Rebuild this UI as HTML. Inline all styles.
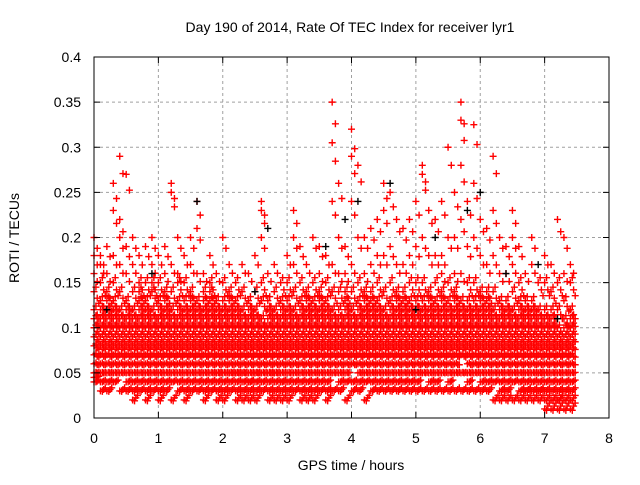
<!DOCTYPE html>
<html><head><meta charset="utf-8"><style>
body{margin:0;background:#fff;}
svg text{font-family:"Liberation Sans",sans-serif;font-size:14px;fill:#000;}
</style></head><body>
<svg id="chart" width="640" height="480" xmlns="http://www.w3.org/2000/svg">
<rect width="640" height="480" fill="#fff"/>
<text x="350" y="32" text-anchor="middle">Day 190 of 2014, Rate Of TEC Index for receiver lyr1</text>
<g id="grid"></g>
<g id="marks"></g>
<g id="marksk"></g>
<rect x="94" y="57" width="515" height="361" fill="none" stroke="#000" stroke-width="1"/>
<g id="ticks"></g>
<text x="351" y="470" text-anchor="middle">GPS time / hours</text>
<text x="19" y="238" text-anchor="middle" transform="rotate(-90 19 238)">ROTI / TECUs</text>
</svg>
<script>
const xTicks=[0,1,2,3,4,5,6,7,8];
const yTicks=[0,0.05,0.1,0.15,0.2,0.25,0.3,0.35,0.4];
const yTickLabels=["0","0.05","0.1","0.15","0.2","0.25","0.3","0.35","0.4"];
const times=[0,0.1,0.2,0.3,0.4,0.5,0.6,0.7,0.8,0.9,1.0,1.1,1.2,1.3,1.4,1.5,1.6,1.7,1.8,1.9,2.0,2.1,2.2,2.3,2.4,2.5,2.6,2.7,2.8,2.9,3.0,3.1,3.2,3.3,3.4,3.5,3.6,3.7,3.8,3.9,4.0,4.1,4.2,4.3,4.4,4.5,4.6,4.7,4.8,4.9,5.0,5.1,5.2,5.3,5.4,5.5,5.6,5.7,5.8,5.9,6.0,6.1,6.2,6.3,6.4,6.5,6.6,6.7,6.8,6.9,7.0,7.1,7.2,7.3,7.4];
const roti=[
[0.04,0.05,0.06,0.08,0.1,0.12,0.14,0.16,0.18,0.2,0.07,0.09,0.045,0.11],
[0.03,0.04,0.06,0.07,0.09,0.11,0.13,0.15,0.17,0.18,0.05,0.08,0.12,0.1],
[0.03,0.05,0.06,0.08,0.1,0.12,0.14,0.16,0.19,0.07,0.09,0.04,0.11,0.13],
[0.04,0.05,0.07,0.09,0.11,0.13,0.15,0.18,0.23,0.26,0.06,0.08,0.1,0.12],
[0.03,0.05,0.06,0.08,0.1,0.12,0.14,0.17,0.2,0.29,0.22,0.07,0.09,0.11],
[0.03,0.04,0.05,0.07,0.09,0.11,0.13,0.16,0.19,0.27,0.06,0.08,0.1,0.12],
[0.02,0.04,0.05,0.06,0.08,0.1,0.12,0.14,0.17,0.2,0.07,0.09,0.03,0.11],
[0.03,0.04,0.06,0.07,0.09,0.11,0.13,0.15,0.18,0.05,0.08,0.1,0.12,0.14],
[0.02,0.04,0.05,0.07,0.08,0.1,0.12,0.15,0.19,0.06,0.09,0.03,0.11,0.13],
[0.03,0.04,0.06,0.07,0.09,0.11,0.14,0.17,0.2,0.05,0.08,0.1,0.12,0.15],
[0.02,0.04,0.05,0.07,0.08,0.1,0.12,0.15,0.18,0.06,0.09,0.03,0.11,0.13],
[0.03,0.05,0.06,0.08,0.09,0.11,0.13,0.16,0.19,0.04,0.07,0.1,0.12,0.14],
[0.02,0.04,0.05,0.07,0.09,0.1,0.12,0.14,0.17,0.25,0.26,0.06,0.08,0.11],
[0.03,0.04,0.06,0.07,0.08,0.1,0.12,0.15,0.2,0.05,0.09,0.11,0.13,0.16],
[0.02,0.04,0.05,0.07,0.09,0.11,0.13,0.15,0.18,0.06,0.08,0.1,0.12,0.03],
[0.03,0.05,0.06,0.08,0.1,0.12,0.14,0.17,0.2,0.04,0.07,0.09,0.11,0.13],
[0.03,0.04,0.06,0.07,0.09,0.11,0.13,0.16,0.21,0.24,0.05,0.08,0.1,0.12],
[0.02,0.04,0.05,0.07,0.08,0.1,0.12,0.14,0.16,0.06,0.09,0.03,0.11,0.13],
[0.03,0.04,0.05,0.06,0.08,0.1,0.12,0.15,0.18,0.07,0.09,0.11,0.13,0.14],
[0.02,0.03,0.05,0.06,0.08,0.09,0.11,0.13,0.16,0.04,0.07,0.1,0.12,0.05],
[0.02,0.04,0.05,0.06,0.08,0.1,0.12,0.15,0.2,0.03,0.07,0.09,0.11,0.13],
[0.03,0.04,0.05,0.07,0.08,0.1,0.12,0.14,0.17,0.06,0.09,0.11,0.13,0.05],
[0.02,0.03,0.05,0.06,0.07,0.09,0.11,0.13,0.15,0.04,0.08,0.1,0.12,0.05],
[0.02,0.04,0.05,0.06,0.08,0.09,0.11,0.14,0.17,0.03,0.07,0.1,0.12,0.05],
[0.02,0.03,0.04,0.06,0.07,0.09,0.1,0.12,0.16,0.05,0.08,0.11,0.13,0.04],
[0.02,0.04,0.05,0.06,0.08,0.1,0.12,0.14,0.18,0.03,0.07,0.09,0.11,0.05],
[0.03,0.04,0.05,0.07,0.08,0.1,0.13,0.15,0.2,0.24,0.23,0.06,0.09,0.11],
[0.02,0.03,0.05,0.06,0.08,0.09,0.11,0.13,0.16,0.04,0.07,0.1,0.12,0.05],
[0.02,0.04,0.05,0.06,0.07,0.09,0.11,0.14,0.17,0.03,0.08,0.1,0.12,0.05],
[0.02,0.03,0.04,0.06,0.07,0.08,0.1,0.12,0.15,0.05,0.09,0.11,0.13,0.04],
[0.02,0.04,0.05,0.07,0.09,0.11,0.13,0.15,0.18,0.06,0.08,0.1,0.12,0.03],
[0.03,0.04,0.06,0.08,0.1,0.12,0.14,0.17,0.23,0.2,0.05,0.07,0.09,0.11],
[0.02,0.04,0.05,0.07,0.09,0.11,0.13,0.15,0.19,0.06,0.08,0.1,0.12,0.03],
[0.02,0.03,0.05,0.06,0.08,0.1,0.12,0.14,0.17,0.04,0.07,0.09,0.11,0.13],
[0.02,0.04,0.05,0.07,0.08,0.1,0.12,0.15,0.2,0.03,0.06,0.09,0.11,0.13],
[0.03,0.04,0.06,0.07,0.09,0.11,0.13,0.16,0.19,0.05,0.08,0.1,0.12,0.14],
[0.02,0.04,0.05,0.07,0.09,0.11,0.13,0.15,0.18,0.06,0.08,0.1,0.12,0.03],
[0.03,0.05,0.06,0.08,0.1,0.12,0.14,0.17,0.24,0.35,0.305,0.07,0.09,0.11],
[0.03,0.04,0.06,0.08,0.1,0.12,0.14,0.16,0.2,0.26,0.05,0.07,0.09,0.11],
[0.02,0.04,0.05,0.07,0.09,0.11,0.13,0.16,0.19,0.06,0.08,0.1,0.12,0.14],
[0.03,0.04,0.06,0.08,0.1,0.12,0.14,0.17,0.24,0.29,0.32,0.07,0.09,0.11],
[0.03,0.05,0.06,0.08,0.1,0.12,0.15,0.2,0.28,0.07,0.09,0.11,0.13,0.04],
[0.02,0.04,0.05,0.07,0.09,0.11,0.13,0.16,0.2,0.06,0.08,0.1,0.12,0.14],
[0.03,0.04,0.06,0.08,0.1,0.12,0.14,0.17,0.21,0.05,0.07,0.09,0.11,0.13],
[0.03,0.05,0.06,0.08,0.1,0.12,0.15,0.18,0.22,0.07,0.09,0.11,0.13,0.04],
[0.03,0.04,0.06,0.08,0.1,0.12,0.14,0.18,0.23,0.26,0.05,0.07,0.09,0.11],
[0.03,0.05,0.07,0.09,0.11,0.13,0.15,0.19,0.25,0.06,0.08,0.1,0.12,0.04],
[0.03,0.04,0.06,0.08,0.1,0.12,0.14,0.17,0.22,0.05,0.07,0.09,0.11,0.13],
[0.03,0.05,0.06,0.08,0.1,0.12,0.14,0.17,0.21,0.07,0.09,0.11,0.13,0.04],
[0.03,0.04,0.06,0.08,0.1,0.12,0.15,0.18,0.22,0.05,0.07,0.09,0.11,0.13],
[0.03,0.05,0.07,0.09,0.11,0.13,0.15,0.19,0.24,0.06,0.08,0.1,0.12,0.04],
[0.03,0.05,0.06,0.08,0.1,0.12,0.15,0.2,0.27,0.28,0.07,0.09,0.11,0.13],
[0.03,0.04,0.06,0.08,0.1,0.12,0.14,0.18,0.23,0.05,0.07,0.09,0.11,0.13],
[0.03,0.05,0.07,0.09,0.11,0.13,0.15,0.18,0.22,0.06,0.08,0.1,0.12,0.04],
[0.03,0.05,0.06,0.08,0.1,0.12,0.14,0.18,0.24,0.07,0.09,0.11,0.13,0.16],
[0.03,0.04,0.06,0.08,0.1,0.12,0.15,0.2,0.3,0.05,0.07,0.09,0.11,0.13],
[0.03,0.05,0.07,0.09,0.11,0.13,0.16,0.2,0.25,0.06,0.08,0.1,0.12,0.14],
[0.03,0.05,0.07,0.09,0.11,0.13,0.16,0.22,0.28,0.33,0.35,0.08,0.1,0.12],
[0.03,0.04,0.06,0.08,0.1,0.12,0.15,0.19,0.24,0.05,0.07,0.09,0.11,0.13],
[0.03,0.05,0.06,0.08,0.1,0.12,0.15,0.2,0.26,0.325,0.07,0.09,0.11,0.13],
[0.03,0.04,0.06,0.08,0.1,0.12,0.14,0.18,0.22,0.05,0.07,0.09,0.11,0.13],
[0.03,0.05,0.06,0.08,0.1,0.12,0.14,0.17,0.21,0.07,0.09,0.11,0.13,0.04],
[0.02,0.04,0.06,0.08,0.1,0.12,0.14,0.18,0.23,0.29,0.05,0.07,0.09,0.11],
[0.02,0.04,0.05,0.07,0.09,0.11,0.13,0.16,0.2,0.06,0.08,0.1,0.12,0.03],
[0.02,0.03,0.05,0.07,0.09,0.11,0.13,0.16,0.19,0.04,0.06,0.08,0.1,0.12],
[0.02,0.04,0.05,0.07,0.09,0.11,0.14,0.17,0.2,0.23,0.06,0.08,0.1,0.12],
[0.02,0.03,0.05,0.06,0.08,0.1,0.12,0.15,0.19,0.04,0.07,0.09,0.11,0.13],
[0.02,0.03,0.04,0.06,0.07,0.09,0.11,0.13,0.16,0.05,0.08,0.1,0.12,0.03],
[0.02,0.03,0.04,0.05,0.07,0.09,0.11,0.13,0.17,0.2,0.06,0.08,0.1,0.12],
[0.02,0.03,0.04,0.05,0.06,0.08,0.1,0.12,0.15,0.07,0.09,0.11,0.03,0.05],
[0.01,0.02,0.03,0.04,0.06,0.08,0.1,0.12,0.15,0.18,0.05,0.07,0.09,0.11],
[0.01,0.02,0.03,0.05,0.07,0.09,0.11,0.14,0.17,0.04,0.06,0.08,0.1,0.12],
[0.01,0.02,0.03,0.04,0.06,0.08,0.1,0.12,0.15,0.22,0.05,0.07,0.09,0.02],
[0.01,0.02,0.03,0.04,0.06,0.08,0.1,0.13,0.16,0.2,0.05,0.07,0.09,0.11],
[0.01,0.02,0.03,0.04,0.06,0.08,0.1,0.12,0.15,0.17,0.05,0.07,0.09,0.11]
];
const blackTimes=[0.2,0.9,1.6,2.5,2.7,3.6,3.9,4.1,4.6,5.0,5.3,5.8,6.0,6.4,6.9,7.2];
const blackVals=[0.12,0.16,0.24,0.14,0.21,0.19,0.22,0.24,0.26,0.12,0.2,0.23,0.25,0.16,0.17,0.11];
const X0=94,X1=609,Y0=418,Y1=57;
const xs=v=>X0+(v-0)/(8-0)*(X1-X0);
const ys=v=>Y0-(v-0)/(0.4-0)*(Y0-Y1);
const NS="http://www.w3.org/2000/svg";
const grid=document.getElementById('grid'),ticks=document.getElementById('ticks');
function mk(tag,attrs,parent){const e=document.createElementNS(NS,tag);for(const k in attrs)e.setAttribute(k,attrs[k]);parent.appendChild(e);return e;}
xTicks.forEach((t,i)=>{
 const x=xs(t);
 if(i>0&&i<xTicks.length-1){const g=mk('line',{x1:x,x2:x,y1:Y1,y2:Y0,stroke:'#a0a0a0','stroke-dasharray':'3,3'},grid);
 
 }
 mk('line',{x1:x,x2:x,y1:Y0,y2:Y0-6,stroke:'#000'},ticks);
 mk('line',{x1:x,x2:x,y1:Y1,y2:Y1+6,stroke:'#000'},ticks);
 const l=mk('text',{x:x,y:443,'text-anchor':'middle'},ticks);l.textContent=t;
 
 
});
yTicks.forEach((t,i)=>{
 const y=ys(t);
 if(i>0&&i<yTicks.length-1){const g=mk('line',{x1:X0,x2:X1,y1:y,y2:y,stroke:'#a0a0a0','stroke-dasharray':'3,3'},grid);
 
 }
 mk('line',{x1:X0,x2:X0+6,y1:y,y2:y,stroke:'#000'},ticks);
 mk('line',{x1:X1,x2:X1-6,y1:y,y2:y,stroke:'#000'},ticks);
 const l=mk('text',{x:81,y:y+5,'text-anchor':'end'},ticks);l.textContent=yTickLabels[i];
 
 
});
function plus(g,t,v,col){
 const x=xs(t),y=ys(v);
 const p=mk('path',{d:`M${x-3.5},${y}h7M${x},${y-3.5}v7`,stroke:col,'stroke-width':1.4,fill:'none'},g);
 
 
}
const mg=document.getElementById('marks');
times.forEach((t,i)=>roti[i].forEach(v=>{
 plus(mg,t,v,'#ff0000');
 plus(mg,t+0.05,v*0.92+0.004,'#ff0000');
 if(v<0.16){plus(mg,t+0.03,v*1.05-0.002,'#ff0000');plus(mg,t+0.075,v*0.85+0.008,'#ff0000');}
}));
const kg=document.getElementById('marksk');
blackTimes.forEach((t,i)=>plus(kg,t,blackVals[i],'#000'));
</script>
</body></html>
